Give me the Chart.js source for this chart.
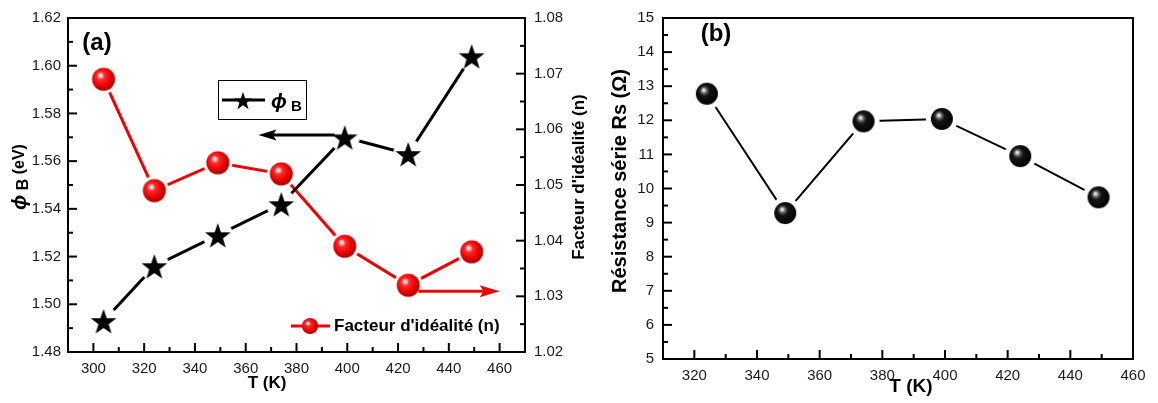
<!DOCTYPE html>
<html>
<head>
<meta charset="utf-8">
<script src="https://cdn.jsdelivr.net/npm/chart.js@4.4.0/dist/chart.umd.min.js"></script>
<style>
  body { margin: 0; background: #fff; }
  #wrap { position: relative; width: 1158px; height: 403px; }
  #chartA { position: absolute; left: 0; top: 0; }
  #chartB { position: absolute; left: 595px; top: 0; }
</style>
</head>
<body>
<div id="wrap">
  <canvas id="chartA" width="595" height="403"></canvas>
  <canvas id="chartB" width="563" height="403"></canvas>
</div>
<script>
// panel (a): barrier height and ideality factor vs T
const tempA = [304, 324, 349, 374, 399, 424, 449];
const phiB = [1.493, 1.516, 1.529, 1.542, 1.570, 1.563, 1.604];
const idealN = [1.069, 1.049, 1.054, 1.052, 1.039, 1.032, 1.038];
const ticksTA = [300, 320, 340, 360, 380, 400, 420, 440, 460];
const ticksPhi = [1.48, 1.50, 1.52, 1.54, 1.56, 1.58, 1.60, 1.62];
const ticksN = [1.02, 1.03, 1.04, 1.05, 1.06, 1.07, 1.08];

// panel (b): series resistance vs T
const tempB = [324, 349, 374, 399, 424, 449];
const rs = [12.78, 9.28, 11.97, 12.04, 10.95, 9.74];
const ticksTB = [320, 340, 360, 380, 400, 420, 440, 460];
const ticksRs = [5, 6, 7, 8, 9, 10, 11, 12, 13, 14, 15];

const FONT = '"Liberation Sans", Arial, sans-serif';

// marker images
function sphere(r, halo, stops) {
  const s = Math.ceil(Math.max(r, halo)) * 2 + 2;
  const c = document.createElement('canvas');
  c.width = c.height = s;
  const g = c.getContext('2d');
  const m = s / 2;
  if (halo > r) {
    g.fillStyle = '#fff';
    g.beginPath(); g.arc(m, m, halo, 0, Math.PI * 2); g.fill();
  }
  const grd = g.createRadialGradient(m - r * 0.3, m - r * 0.35, 0, m - r * 0.12, m - r * 0.12, r * 1.15);
  stops.forEach(st => grd.addColorStop(st[0], st[1]));
  g.fillStyle = grd;
  g.beginPath(); g.arc(m, m, r, 0, Math.PI * 2); g.fill();
  return c;
}

function star(R, halo) {
  const s = Math.ceil(Math.max(R, halo)) * 2 + 2;
  const c = document.createElement('canvas');
  c.width = c.height = s;
  const g = c.getContext('2d');
  const m = s / 2;
  if (halo > R) {
    g.fillStyle = '#fff';
    g.beginPath(); g.arc(m, m, halo, 0, Math.PI * 2); g.fill();
  }
  g.fillStyle = '#000';
  g.beginPath();
  for (let i = 0; i < 10; i++) {
    const rad = i % 2 ? R * 0.4 : R;
    const a = -Math.PI / 2 + i * Math.PI / 5;
    g.lineTo(m + rad * Math.cos(a), m + 1.5 + rad * Math.sin(a));
  }
  g.closePath();
  g.fill();
  return c;
}

const redStops = [[0, '#ffffff'], [0.12, '#ffc8c8'], [0.3, '#ff2a2a'], [0.7, '#e80000'], [1, '#9a0000']];
const blackStops = [[0, '#ffffff'], [0.1, '#d0d0d0'], [0.24, '#606060'], [0.42, '#151515'], [1, '#000']];

const redBall = sphere(11.5, 14.5, redStops);
const redBallSmall = sphere(8, 0, redStops);
const blackBall = sphere(11, 16, blackStops);
const starMark = star(13.5, 15);
const starSmall = star(9.5, 0);

// text helper: parts drawn along one baseline, optionally rotated
function drawParts(ctx, parts, x, y, rot, align) {
  ctx.save();
  ctx.translate(x, y);
  if (rot) ctx.rotate(rot);
  let w = 0;
  parts.forEach(p => { ctx.font = p.font; w += ctx.measureText(p.text).width; });
  let cx = align === 'left' ? 0 : -w / 2;
  ctx.textBaseline = 'middle';
  ctx.textAlign = 'left';
  ctx.fillStyle = '#000';
  parts.forEach(p => {
    ctx.font = p.font;
    ctx.fillText(p.text, cx, p.dy || 0);
    cx += ctx.measureText(p.text).width;
  });
  ctx.restore();
}

function arrow(ctx, x1, y1, x2, y2, color, hl, hw) {
  const ang = Math.atan2(y2 - y1, x2 - x1);
  ctx.save();
  ctx.strokeStyle = color; ctx.fillStyle = color; ctx.lineWidth = 3;
  ctx.beginPath();
  ctx.moveTo(x1, y1);
  ctx.lineTo(x2 - hl * 0.8 * Math.cos(ang), y2 - hl * 0.8 * Math.sin(ang));
  ctx.stroke();
  ctx.translate(x2, y2); ctx.rotate(ang);
  ctx.beginPath();
  ctx.moveTo(0, 0); ctx.lineTo(-hl, -hw / 2); ctx.lineTo(-hl * 0.8, 0); ctx.lineTo(-hl, hw / 2);
  ctx.closePath(); ctx.fill();
  ctx.restore();
}

// frame, inward ticks, titles, arrows, legends
const decor = {
  id: 'decor',
  afterDraw(chart, args, o) {
    const ctx = chart.ctx;
    const a = chart.chartArea;
    ctx.save();
    ctx.strokeStyle = '#000';
    ctx.lineWidth = 2;
    ctx.strokeRect(a.left, a.top, a.right - a.left, a.bottom - a.top);
    o.ticks.forEach(t => {
      const sc = chart.scales[t.id];
      const n = Math.round((sc.max - sc.min) / t.minor);
      for (let k = 1; k < n; k++) {
        const v = sc.min + k * t.minor;
        const major = Math.abs(v / t.major - Math.round(v / t.major)) < 1e-6;
        const len = major ? 9 : 5;
        const p = sc.getPixelForValue(v);
        ctx.beginPath();
        if (t.side === 'bottom') { ctx.moveTo(p, a.bottom); ctx.lineTo(p, a.bottom - len); }
        if (t.side === 'left') { ctx.moveTo(a.left, p); ctx.lineTo(a.left + len, p); }
        if (t.side === 'right') { ctx.moveTo(a.right, p); ctx.lineTo(a.right - len, p); }
        ctx.stroke();
      }
    });
    ctx.restore();
    (o.arrows || []).forEach(ar => {
      const xs = chart.scales.x, ys = chart.scales[ar.axis];
      arrow(ctx, xs.getPixelForValue(ar.from), ys.getPixelForValue(ar.y),
        xs.getPixelForValue(ar.to), ys.getPixelForValue(ar.y), ar.color, ar.hl, ar.hw);
    });
    if (o.legend) o.legend(ctx);
    (o.texts || []).forEach(t => drawParts(ctx, t.parts, t.x, t.y, t.rot, t.align));
  }
};

const bold = s => 'bold ' + s + 'px ' + FONT;
const tickFont = { family: FONT, size: 15 };

function axis(min, max, list, fmt, pos, size, pad) {
  const horiz = pos === 'bottom';
  return {
    type: 'linear', position: pos, min: min, max: max,
    grid: { display: false, drawTicks: false },
    border: { display: false },
    afterBuildTicks: s => { s.ticks = list.map(v => ({ value: v })); },
    afterFit: s => { if (horiz) s.height = size; else s.width = size; },
    ticks: { font: tickFont, color: '#1a1a1a', padding: pad, autoSkip: false, maxRotation: 0, callback: fmt }
  };
}

new Chart(document.getElementById('chartA'), {
  type: 'line',
  data: {
    datasets: [{
      label: 'ϕB',
      data: tempA.map((t, i) => ({ x: t, y: phiB[i] })),
      yAxisID: 'yPhi',
      borderColor: '#000', borderWidth: 3,
      pointStyle: starMark, pointRadius: 13,
      tension: 0
    }, {
      label: "Facteur d'idéalité (n)",
      data: tempA.map((t, i) => ({ x: t, y: idealN[i] })),
      yAxisID: 'yN',
      borderColor: '#f00000', borderWidth: 3,
      pointStyle: redBall, pointRadius: 12,
      tension: 0
    }]
  },
  options: {
    responsive: false, animation: false, events: [],
    layout: { padding: { top: 15, left: 0, right: 0, bottom: 0 } },
    scales: {
      x: axis(290, 470, ticksTA, v => String(v), 'bottom', 51, 8),
      yPhi: axis(1.48, 1.62, ticksPhi, v => v.toFixed(2), 'left', 68, 7),
      yN: axis(1.02, 1.08, ticksN, v => v.toFixed(2), 'right', 70, 9)
    },
    plugins: {
      legend: { display: false },
      tooltip: { enabled: false },
      decor: {
        ticks: [
          { id: 'x', side: 'bottom', major: 20, minor: 10 },
          { id: 'yPhi', side: 'left', major: 0.02, minor: 0.01 },
          { id: 'yN', side: 'right', major: 0.01, minor: 0.005 }
        ],
        arrows: [
          { axis: 'yPhi', y: 1.571, from: 395, to: 365, color: '#000', hl: 18, hw: 11 },
          { axis: 'yN', y: 1.0309, from: 428, to: 460, color: '#f00000', hl: 20, hw: 12 }
        ],
        legend: ctx => {
          ctx.save();
          ctx.strokeStyle = '#000'; ctx.lineWidth = 1;
          ctx.strokeRect(218.5, 80.5, 88, 39);
          ctx.lineWidth = 3;
          ctx.beginPath(); ctx.moveTo(222, 100); ctx.lineTo(265, 100); ctx.stroke();
          ctx.drawImage(starSmall, 243 - starSmall.width / 2, 100 - starSmall.height / 2);
          ctx.strokeStyle = '#f00000';
          ctx.beginPath(); ctx.moveTo(291, 326); ctx.lineTo(330, 326); ctx.stroke();
          ctx.drawImage(redBallSmall, 310 - redBallSmall.width / 2, 326 - redBallSmall.height / 2);
          ctx.restore();
        },
        texts: [
          { parts: [{ text: 'ϕ', font: 'italic ' + bold(21) }, { text: ' B', font: bold(15), dy: 5 }], x: 271, y: 102, align: 'left' },
          { parts: [{ text: "Facteur d'idéalité (n)", font: bold(17) }], x: 334, y: 326, align: 'left' },
          { parts: [{ text: '(a)', font: bold(24) }], x: 97, y: 43 },
          { parts: [{ text: 'T (K)', font: bold(17) }], x: 267, y: 383 },
          { parts: [{ text: 'ϕ', font: 'italic ' + bold(20) }, { text: ' B', font: bold(16), dy: 4 }, { text: ' (eV)', font: bold(16) }], x: 20, y: 177, rot: -Math.PI / 2 },
          { parts: [{ text: "Facteur d'idéalité (n)", font: bold(17) }], x: 579, y: 177, rot: -Math.PI / 2 }
        ]
      }
    }
  },
  plugins: [decor]
});

new Chart(document.getElementById('chartB'), {
  type: 'line',
  data: {
    datasets: [{
      label: 'Rs',
      data: tempB.map((t, i) => ({ x: t, y: rs[i] })),
      borderColor: '#000', borderWidth: 2,
      pointStyle: blackBall, pointRadius: 12,
      tension: 0
    }]
  },
  options: {
    responsive: false, animation: false, events: [],
    layout: { padding: { top: 13, left: 0, right: 25, bottom: 0 } },
    scales: {
      x: axis(310, 460, ticksTB, v => String(v), 'bottom', 44, 8),
      y: axis(5, 15, ticksRs, v => String(v), 'left', 68, 9)
    },
    plugins: {
      legend: { display: false },
      tooltip: { enabled: false },
      decor: {
        ticks: [
          { id: 'x', side: 'bottom', major: 20, minor: 10 },
          { id: 'y', side: 'left', major: 1, minor: 0.5 }
        ],
        texts: [
          { parts: [{ text: '(b)', font: bold(24) }], x: 121, y: 34 },
          { parts: [{ text: 'T (K)', font: bold(19) }], x: 316, y: 387 },
          { parts: [{ text: 'Résistance série Rs (Ω)', font: bold(20) }], x: 25, y: 181, rot: -Math.PI / 2 }
        ]
      }
    }
  },
  plugins: [decor]
});
</script>
</body>
</html>
